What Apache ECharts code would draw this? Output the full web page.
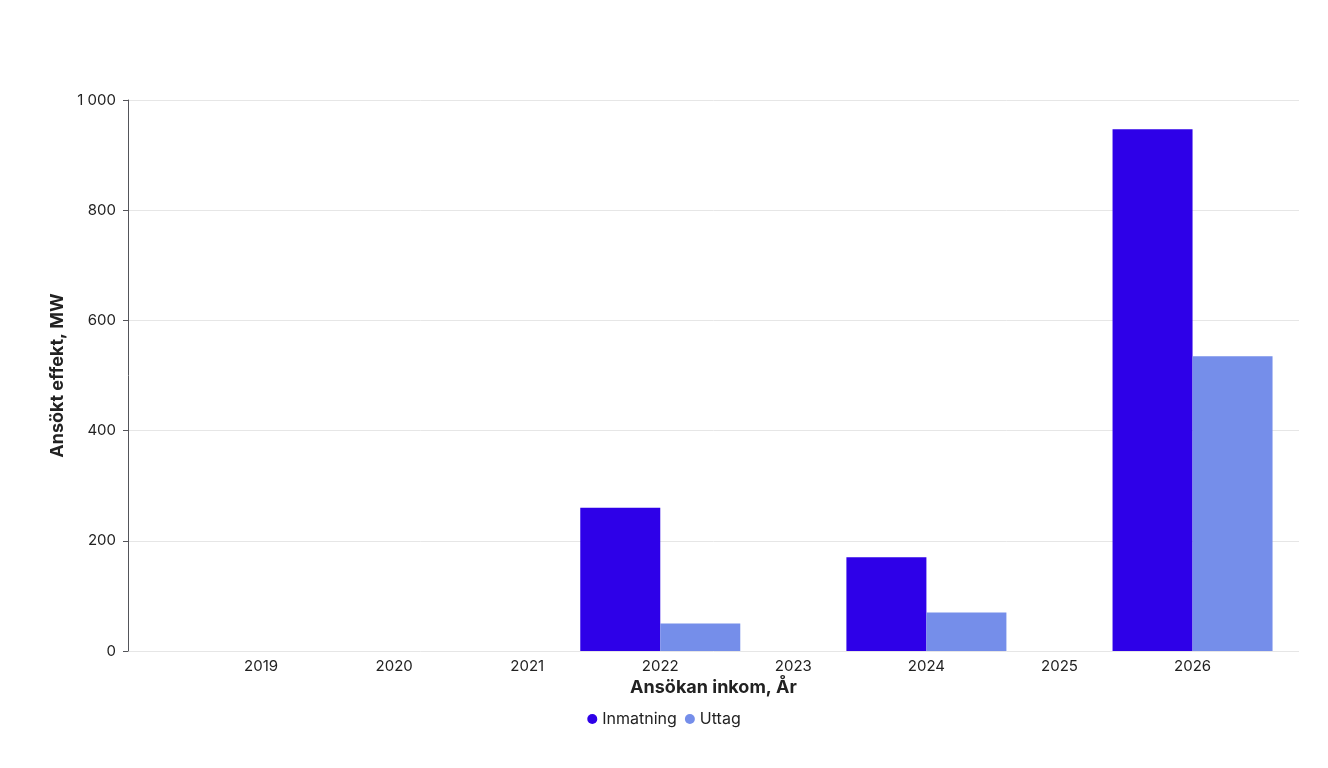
<!DOCTYPE html><html><head><meta charset="utf-8"><script src="https://cdn.jsdelivr.net/npm/echarts@6/dist/echarts.min.js"></script></head><body style="margin:0"><div id="c" style="width:1328px;height:768px"></div><script>
const years=[2019,2020,2021,2022,2023,2024,2025,2026];
const inmatning=[0,0,0,260,0,170,0,947];
const uttag=[0,0,0,50,0,70,0,535];
const ch=echarts.init(document.getElementById('c'));
const f='Inter, sans-serif';
ch.setOption({
textStyle:{fontFamily:f},
grid:{left:128,right:29,top:100,bottom:117},
legend:{bottom:36,left:'center',icon:'circle',itemWidth:10,itemHeight:10,itemGap:8,textStyle:{fontSize:16,color:'#222',fontFamily:f},data:['Inmatning','Uttag']},
xAxis:{type:'value',min:2018,max:2026.8,interval:1,name:'Ansökan inkom, År',nameLocation:'middle',nameGap:26,nameTextStyle:{fontSize:18,fontWeight:'bold',color:'#222'},
axisLine:{show:false},axisTick:{show:false},splitLine:{show:false},
axisLabel:{showMinLabel:false,showMaxLabel:false,fontSize:15,color:'#222',formatter:v=>Number.isInteger(v)&&v>2018?String(v):''}},
yAxis:{type:'value',min:0,max:1000,interval:200,name:'Ansökt effekt, MW',nameLocation:'middle',nameGap:56,nameTextStyle:{fontSize:18,fontWeight:'bold',color:'#222'},
axisLabel:{fontSize:15,color:'#222',margin:12,formatter:v=>v>=1000?String(v).replace(/\B(?=(\d{3})+(?!\d))/g,' '):String(v)},
splitLine:{lineStyle:{color:'#e6e6e6'}}},
series:[
{name:'Inmatning',type:'bar',barWidth:80,barGap:'0%',itemStyle:{color:'#2e00e8'},data:years.map((y,i)=>[y,inmatning[i]])},
{name:'Uttag',type:'bar',barWidth:80,barGap:'0%',itemStyle:{color:'#758eea'},data:years.map((y,i)=>[y,uttag[i]])}
]});
</script></body></html>
